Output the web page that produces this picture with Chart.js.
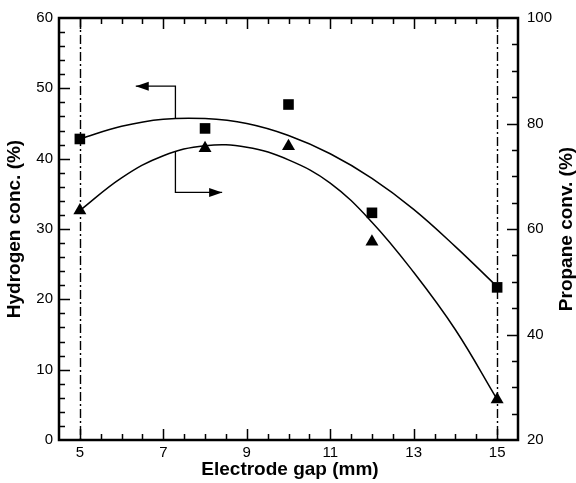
<!DOCTYPE html>
<html>
<head>
<meta charset="utf-8">
<script src="https://cdn.jsdelivr.net/npm/chart.js@4.4.1/dist/chart.umd.min.js"></script>
<style>
  html, body { margin: 0; padding: 0; background: #fff; }
  #wrap { width: 576px; height: 483px; }
</style>
</head>
<body>
<div id="wrap"><canvas id="chart" width="576" height="483"></canvas></div>
<script>
// measured points
const gapValues = [5, 8, 10, 12, 15];
const hydrogenConc = [42.8, 44.3, 47.7, 32.3, 21.7];   // left axis, %
const propaneConv = [63.5, 75.3, 75.7, 57.6, 27.7];    // right axis, %

// fitted curves
const curveX = [5, 6, 7, 8, 9, 10, 11, 12, 13, 14, 15];
const hydrogenFit = [42.8, 44.6, 45.6, 45.7, 45.0, 43.3, 40.7, 37.2, 32.8, 27.5, 21.8];
const propaneFit = [63.5, 69.7, 73.9, 75.8, 75.5, 73.1, 68.7, 61.3, 51.8, 40.9, 27.7];

// axis ticks
const xTickLabels = [5, 7, 9, 11, 13, 15];
const yLeftTicks = [0, 10, 20, 30, 40, 50, 60];
const yRightTicks = [20, 40, 60, 80, 100];

// dash-dot reference lines and the two pointer arrows (data units, left axis)
const refLines = [5, 15];
const arrowToLeft = [[7.29, 45.7], [7.29, 50.3], [6.34, 50.3]];
const arrowToRight = [[7.29, 41.0], [7.29, 35.2], [8.41, 35.2]];

const toXY = (xs, ys) => xs.map((x, i) => ({ x: x, y: ys[i] }));
const FONT = '"Liberation Sans", Arial, Helvetica, sans-serif';

const fixSize = (w, h) => (scale) => {
  if (w != null) scale.width = w;
  if (h != null) scale.height = h;
};

const decorPlugin = {
  id: 'decor',
  beforeDatasetsDraw(chart) {
    const { ctx, chartArea: a, scales } = chart;
    ctx.save();
    ctx.strokeStyle = '#000';
    ctx.lineWidth = 1.4;
    ctx.setLineDash([9, 3, 2, 3]);
    refLines.forEach(v => {
      const px = Math.round(scales.x.getPixelForValue(v)) + 0.5;
      ctx.beginPath();
      ctx.moveTo(px, a.top);
      ctx.lineTo(px, a.bottom);
      ctx.stroke();
    });
    ctx.setLineDash([]);

    const drawArrow = (pts) => {
      const p = pts.map(([x, y]) => [scales.x.getPixelForValue(x), scales.y.getPixelForValue(y)]);
      ctx.lineWidth = 1.3;
      ctx.beginPath();
      ctx.moveTo(p[0][0], p[0][1]);
      for (let i = 1; i < p.length; i++) ctx.lineTo(p[i][0], p[i][1]);
      ctx.stroke();
      const [tx, ty] = p[p.length - 1];
      const [fx, fy] = p[p.length - 2];
      const ang = Math.atan2(ty - fy, tx - fx);
      const len = 13, half = 4.5;
      ctx.beginPath();
      ctx.moveTo(tx, ty);
      ctx.lineTo(tx - len * Math.cos(ang) + half * Math.sin(ang), ty - len * Math.sin(ang) - half * Math.cos(ang));
      ctx.lineTo(tx - len * Math.cos(ang) - half * Math.sin(ang), ty - len * Math.sin(ang) + half * Math.cos(ang));
      ctx.closePath();
      ctx.fill();
    };
    ctx.fillStyle = '#000';
    drawArrow(arrowToLeft);
    drawArrow(arrowToRight);
    ctx.restore();
  },
  afterDraw(chart) {
    const { ctx, chartArea: a, scales } = chart;
    ctx.save();
    ctx.strokeStyle = '#000';
    ctx.fillStyle = '#000';

    // inside tick marks on all four sides
    const major = 11, minor = 6;
    ctx.lineWidth = 1.5;
    ctx.beginPath();
    for (let v = 5; v <= 15.001; v += 0.5) {
      const px = Math.round(scales.x.getPixelForValue(v)) + 0.5;
      const len = xTickLabels.includes(v) ? major : minor;
      ctx.moveTo(px, a.bottom); ctx.lineTo(px, a.bottom - len);
      ctx.moveTo(px, a.top); ctx.lineTo(px, a.top + len);
    }
    for (let v = 2; v < 60; v += 2) {
      const py = Math.round(scales.y.getPixelForValue(v)) + 0.5;
      const len = v % 10 === 0 ? major : minor;
      ctx.moveTo(a.left, py); ctx.lineTo(a.left + len, py);
    }
    for (let v = 25; v < 100; v += 5) {
      const py = Math.round(scales.y2.getPixelForValue(v)) + 0.5;
      const len = v % 20 === 0 ? major : minor;
      ctx.moveTo(a.right, py); ctx.lineTo(a.right - len, py);
    }
    ctx.stroke();

    // frame
    ctx.lineWidth = 2.5;
    ctx.strokeRect(a.left, a.top, a.right - a.left, a.bottom - a.top);

    // axis titles
    ctx.font = 'bold 19px ' + FONT;
    ctx.textAlign = 'center';
    ctx.textBaseline = 'alphabetic';
    ctx.fillText('Electrode gap (mm)', 290, 475);
    const midY = (a.top + a.bottom) / 2;
    [[20, 'Hydrogen conc. (%)'], [572, 'Propane conv. (%)']].forEach(([x, txt]) => {
      ctx.save();
      ctx.translate(x, midY);
      ctx.rotate(-Math.PI / 2);
      ctx.fillText(txt, 0, 0);
      ctx.restore();
    });
    ctx.restore();
  }
};

new Chart(document.getElementById('chart'), {
  type: 'scatter',
  data: {
    datasets: [
      {
        label: 'Hydrogen conc.',
        data: toXY(gapValues, hydrogenConc),
        yAxisID: 'y',
        pointStyle: 'rect',
        pointRadius: 7.5,
        backgroundColor: '#000',
        borderColor: '#000',
        borderWidth: 0
      },
      {
        label: 'Propane conv.',
        data: toXY(gapValues, propaneConv),
        yAxisID: 'y2',
        pointStyle: 'triangle',
        pointRadius: 7.5,
        backgroundColor: '#000',
        borderColor: '#000',
        borderWidth: 0
      },
      {
        label: 'Hydrogen fit',
        data: toXY(curveX, hydrogenFit),
        yAxisID: 'y',
        showLine: true,
        pointRadius: 0,
        borderColor: '#000',
        borderWidth: 1.5,
        tension: 0.4
      },
      {
        label: 'Propane fit',
        data: toXY(curveX, propaneFit),
        yAxisID: 'y2',
        showLine: true,
        pointRadius: 0,
        borderColor: '#000',
        borderWidth: 1.5,
        tension: 0.4
      }
    ]
  },
  options: {
    responsive: false,
    devicePixelRatio: 1,
    animation: false,
    layout: { padding: { top: 15, left: 0, right: 0, bottom: 0 } },
    plugins: { legend: { display: false }, tooltip: { enabled: false } },
    scales: {
      x: {
        type: 'linear',
        min: 4.5,
        max: 15.5,
        grid: { display: false, drawTicks: false },
        border: { display: false },
        afterBuildTicks: (scale) => { scale.ticks = xTickLabels.map(v => ({ value: v })); },
        afterFit: fixSize(null, 43),
        ticks: { color: '#000', font: { family: FONT, size: 15 }, padding: 4, maxRotation: 0, autoSkip: false }
      },
      y: {
        position: 'left',
        min: 0,
        max: 60,
        grid: { display: false, drawTicks: false },
        border: { display: false },
        afterBuildTicks: (scale) => { scale.ticks = yLeftTicks.map(v => ({ value: v })); },
        afterFit: fixSize(59, null),
        ticks: { color: '#000', font: { family: FONT, size: 15 }, padding: 6 }
      },
      y2: {
        position: 'right',
        min: 20,
        max: 100,
        grid: { display: false, drawTicks: false },
        border: { display: false },
        afterBuildTicks: (scale) => { scale.ticks = yRightTicks.map(v => ({ value: v })); },
        afterFit: fixSize(58, null),
        ticks: { color: '#000', font: { family: FONT, size: 15 }, padding: 9 }
      }
    }
  },
  plugins: [decorPlugin]
});
</script>
</body>
</html>
